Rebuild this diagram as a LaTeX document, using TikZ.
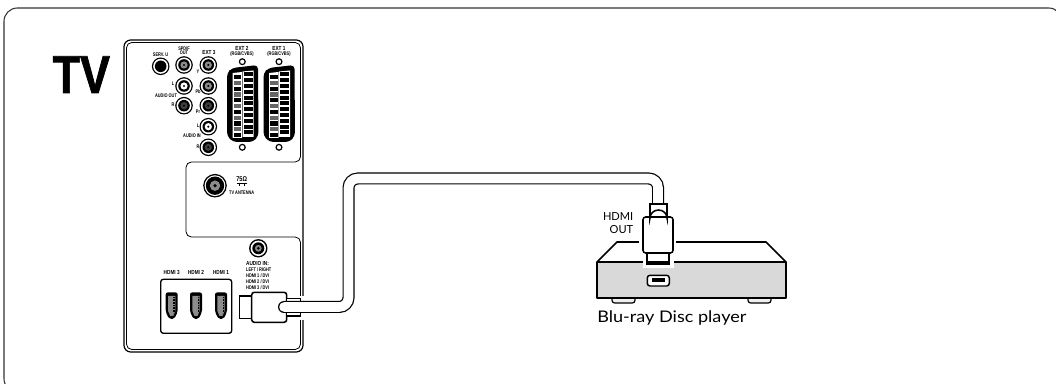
\documentclass[tikz,border=0pt]{standalone}
\usepackage{fontspec}
\setmainfont{Lato}
\setsansfont{Liberation Sans}
\newfontfamily\tvfont[FakeBold=1.6]{Liberation Sans Bold}
\usepackage{xcolor}
\usepackage{tikz}
\definecolor{boxgray}{gray}{0.85}
\definecolor{pingray}{gray}{0.55}
\tikzset{
    tiny label/.style={inner sep=0pt, xscale=0.75, font=\sffamily\bfseries\fontsize{3.9}{4}\selectfont},
    port label/.style={inner sep=0pt, xscale=0.8, font=\sffamily\bfseries\fontsize{4.4}{4}\selectfont},
    hdmi label/.style={inner sep=0pt, anchor=base east, font=\fontsize{8.3}{9}\selectfont},
    thick line/.style={line width=1.15pt},
}
\begin{document}
\begin{tikzpicture}[x=0.75pt,y=-0.75pt]
    \useasboundingbox (0,0) rectangle (1056,384);
    \clip (0,0) rectangle (1056,384);

    % Riquadro esterno
    \draw[line width=0.8pt, black!80, rounded corners=10pt] (4,8) rectangle (1062,392);
    \node[inner sep=0pt, anchor=base west, font=\tvfont\fontsize{40}{40}\selectfont, xscale=0.84] (tvtitle) at (52.5,93) {TV};

    % Pannello del televisore
    \draw[line width=0.9pt, rounded corners=5pt] (124,40) rectangle (303,352);
    \draw[line width=0.6pt, rounded corners=4pt] (126.5,42.5) -- (300.5,42.5) -- (300.5,162) -- (186,162) -- (186,237) -- (300.5,237) -- (300.5,349.5) -- (126.5,349.5) -- cycle;

    % Prese RCA
    \foreach \x/\y/\c in {160.7/66.3/black, 184/65/pingray, 208.3/65/pingray, 184/86/white, 208.3/86/pingray, 184/105.7/black!75, 208.3/105.7/black!75, 208.3/126.7/white, 208.3/147.3/black!75} {
        \fill (\x,\y) circle (8.8);
        \fill[white] (\x,\y) circle (7.5);
        \fill (\x,\y) circle (5.8);
        \fill[\c] (\x,\y) circle (3.6);
        \fill (\x,\y) circle (1.2);
    }
    \node[tiny label] (servu) at (160.5,54.5) {SERV. U};
    \node[tiny label, align=center] (spdif) at (184,50.5) {SPDIF\\[-0.6pt]OUT};
    \node[port label] (extthree) at (209,52) {EXT 3};
    \node[tiny label] (chl) at (173,84) {L};
    \node[tiny label] (audioout) at (166,96) {AUDIO OUT};
    \node[tiny label] (chr) at (173,105) {R};
    \node[tiny label] (chy) at (198,72) {Y};
    \node[tiny label] (chpb) at (198,92) {Pb};
    \node[tiny label] (chpr) at (198,112) {Pr};
    \node[tiny label] (inl) at (198,126) {L};
    \node[tiny label] (audioin) at (192,136) {AUDIO IN};
    \node[tiny label] (inr) at (198,147) {R};

    % Prese SCART
    \foreach \x in {227,263.5} {
        \fill[rounded corners=3pt] (\x,73) -- (\x+5,68) -- (\x+31,65) -- (\x+31.5,136) -- (\x+26,142) -- (\x+6,142) -- (\x,136) -- cycle;
        \fill[white] (\x+5.5,73) -- (\x+15,72) -- (\x+15,138) -- (\x+5.5,138) -- cycle;
        \fill[white] (\x+15.5,71.5) -- (\x+26.5,70.5) -- (\x+26.5,137) -- (\x+15.5,137) -- cycle;
        \foreach \k in {0,...,10} {
            \pgfmathsetmacro{\pinc}{int(mod(\k,2))==0 ? 100 : 60}
            \fill[black!\pinc] (\x+6.5,{75+\k*5.8}) rectangle (\x+14,{79.3+\k*5.8});
            \fill (\x+16.5,{72.5+\k*5.8}) rectangle (\x+25.5,{76.5+\k*5.8});
        }
    }
    \foreach \x in {242.3,279} {
        \draw[line width=0.9pt] (\x,61.7) circle (2.9);
        \draw[line width=0.9pt] (\x,147.3) circle (2.9);
    }
    \node[port label] (exttwo) at (242,48) {EXT 2};
    \node[tiny label] (rgbtwo) at (242,54) {(RGB/CVBS)};
    \node[port label] (extone) at (279,48) {EXT 1};
    \node[tiny label] (rgbone) at (279,54) {(RGB/CVBS)};

    % Antenna
    \fill (215,185.7) circle (11.8);
    \fill[white] (215,185.7) circle (10.4);
    \fill (215,185.7) circle (9.2);
    \fill[pingray] (215,185.7) circle (5.2);
    \fill (215,185.7) circle (1.8);
    \node[port label, font=\sffamily\bfseries\fontsize{5.2}{5}\selectfont] (ohm) at (241.7,179.3) {75Ω};
    \draw[line width=0.5pt] (237,183.5) -- (246.5,183.5);
    \draw[line width=0.5pt] (239.5,183.5) -- (239.5,186.5) (244,183.5) -- (244,186.5);
    \node[tiny label] (antenna) at (241.7,192.7) {TV ANTENNA};

    % Ingresso audio
    \fill (258.3,248.3) circle (9.2);
    \fill[white] (258.3,248.3) circle (7.7);
    \fill (258.3,248.3) circle (6);
    \fill[pingray] (258.3,248.3) circle (3.4);
    \fill (258.3,248.3) circle (1.5);
    \node[port label, anchor=west] (audiohead) at (246,263.7) {AUDIO IN:};
    \node[tiny label, anchor=west] (leftright) at (246,270) {LEFT / RIGHT};
    \node[tiny label, anchor=west] (dvione) at (246,276) {HDMI 1 / DVI};
    \node[tiny label, anchor=west] (dvitwo) at (246,282) {HDMI 2 / DVI};
    \node[tiny label, anchor=west] (dvithree) at (246,288) {HDMI 3 / DVI};

    % Prese HDMI
    \draw[line width=1pt, rounded corners=2pt] (160.7,279.3) rectangle (231.7,333.3);
    \foreach \x/\n in {171.7/3, 196/2, 221/1} {
        \node[port label] (hdmi\n) at (\x,272.3) {HDMI \n};
        \fill[rounded corners=1.5pt] (\x-6,292.5) -- (\x+6,292.5) -- (\x+6,312) -- (\x+2.5,319) -- (\x-2.5,319) -- (\x-6,312) -- cycle;
        \fill[pingray] (\x-3.6,296) -- (\x+3.6,296) -- (\x+3.6,311) -- (\x+1.5,316) -- (\x-1.5,316) -- (\x-3.6,311) -- cycle;
        \draw[line width=0.9pt, dash pattern=on 0.6pt off 0.6pt] (\x+2.2,297) -- (\x+2.2,313);
    }

    % Punti del cavo
    \coordinate (tvend) at (284,307);
    \coordinate (bendone) at (348.5,307);
    \coordinate (bendtwo) at (348.5,178.5);
    \coordinate (bendthree) at (658,178.5);
    \coordinate (playerend) at (658,204);
    \fill[white] (296,296) rectangle (306,320);

    % Lettore
    \fill[boxgray] (597,262) rectangle (786,298);
    \foreach \x in {612,748} {
        \draw[line width=0.9pt, fill=boxgray!40, rounded corners=2pt] (\x,298) -- (\x,303) -- (\x+23,303) -- (\x+23,298);
    }
    \draw[line width=1.15pt, line join=round] (597,262) -- (617,242) -- (766,242) -- (786,262) -- (786,298) -- (597,298) -- cycle;
    \draw[line width=1.15pt] (597,262) -- (786,262);
    \draw[line width=1.1pt, fill=white, rounded corners=2pt] (647.3,275.3) rectangle (669.3,286);
    \fill (651.7,278.3) rectangle (665,281.7);
    \node[hdmi label] (hdmilabel) at (633.5,220.7) {HDMI};
    \node[hdmi label] (outlabel) at (633.5,234) {OUT};
    \node[inner sep=0pt, anchor=base west, xscale=1.13, font=\fontsize{12}{12}\selectfont] (playerlabel) at (597,323) {Blu-ray Disc player};

    % Alone bianco sotto la spina
    \fill[white] (639,236) rectangle (676,256);
    \fill[white] (642.5,254) rectangle (673.5,268);

    % Spina lato televisore, prima del cavo
    \draw[thick line, fill=white] (239.3,296) rectangle (251.7,318.3);
    \draw[thick line, fill=white, rounded corners=2pt] (251.7,292.3) rectangle (286.7,322.3);
    \draw[thick line, fill=white] (286.7,298.3) rectangle (300.7,316);

    % Cavo HDMI
    \draw[line width=9pt, line cap=round, rounded corners=7pt] (tvend) -- (bendone) -- (bendtwo) -- (bendthree) -- (playerend);
    \draw[line width=7.2pt, line cap=round, white, rounded corners=7pt] (tvend) -- (bendone) -- (bendtwo) -- (bendthree) -- (playerend);

    % Spina lato lettore
    \draw[thick line, fill=white] (647,250) rectangle (669,264);
    \fill (647,261.5) rectangle (669,264.5);
    \draw[thick line, fill=white, rounded corners=2pt] (643,217) rectangle (673,253);
    \draw[thick line, fill=white] (650,204) -- (667,204) -- (667,218) arc[start angle=0, end angle=180, x radius=8.5, y radius=-8] -- cycle;
\end{tikzpicture}
\end{document}
